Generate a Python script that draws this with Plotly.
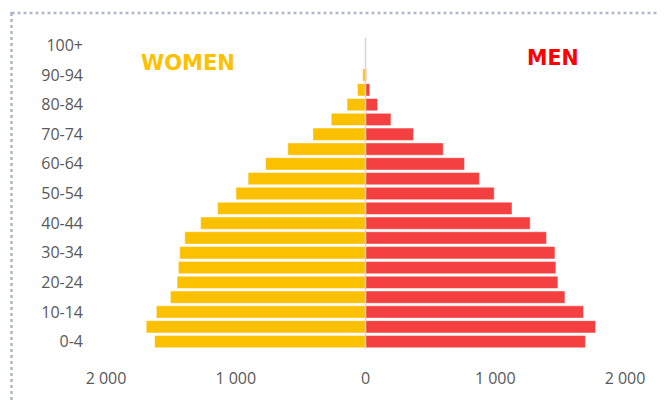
import plotly.graph_objects as go

age_groups = ["0-4", "5-9", "10-14", "15-19", "20-24", "25-29", "30-34", "35-39",
              "40-44", "45-49", "50-54", "55-59", "60-64", "65-69", "70-74", "75-79",
              "80-84", "85-89", "90-94", "95-99", "100+"]
women = [1625, 1690, 1612, 1504, 1452, 1442, 1432, 1393, 1271, 1140, 998, 905,
         770, 599, 405, 264, 142, 62, 21, 3, 0]
men = [1695, 1773, 1680, 1537, 1483, 1467, 1460, 1395, 1269, 1129, 992, 878,
       763, 599, 370, 196, 93, 33, 6, 1, 0]
y_tick_labels = ["0-4", "10-14", "20-24", "30-34", "40-44", "50-54", "60-64",
                 "70-74", "80-84", "90-94", "100+"]
x_tick_values = [-2000, -1000, 0, 1000, 2000]
x_tick_labels = ["2 000", "1 000", "0", "1 000", "2 000"]

OFF = 8  # page body margin
W, H = 666 - OFF, 401 - OFF
ML, MR, MT, MB = 106 - OFF, 41, 38 - OFF, 52

fig = go.Figure()
fig.add_trace(go.Bar(
    y=age_groups, x=[-v for v in women], orientation="h", name="WOMEN",
    marker=dict(color="#FBC000", line=dict(color="rgba(255,255,255,0.45)", width=1)),
))
fig.add_trace(go.Bar(
    y=age_groups, x=men, orientation="h", name="MEN",
    marker=dict(color="#F44040", line=dict(color="rgba(255,255,255,0.45)", width=1)),
))

pw = W - ML - MR
ph = H - MT - MB
def px_x(p):
    return (p - OFF - ML) / pw
def px_y(p):
    return 1 - (p - OFF - MT) / ph

fig.update_layout(
    width=W, height=H,
    margin=dict(l=ML, r=MR, t=MT, b=MB, pad=0),
    paper_bgcolor="white", plot_bgcolor="white",
    barmode="overlay", bargap=0.17,
    showlegend=False,
    font=dict(family="Open Sans, Liberation Sans, sans-serif", color="#595959", size=16),
    xaxis=dict(range=[-2000, 2000], tickvals=x_tick_values, ticktext=x_tick_labels,
               showgrid=False, zeroline=False, showline=False, ticks="",
               ticklabelstandoff=18, fixedrange=True),
    yaxis=dict(categoryorder="array", categoryarray=age_groups,
               tickvals=y_tick_labels, showgrid=False, zeroline=False,
               showline=False, ticks="", ticklabelstandoff=22,
               range=[-0.5, len(age_groups) - 0.5]),
    shapes=[
        dict(type="line", xref="x", yref="paper", x0=0, x1=0, y0=0, y1=1,
             line=dict(color="#D6D6D6", width=1.5), layer="above"),
        dict(type="rect", xref="paper", yref="paper",
             x0=px_x(11.5), x1=px_x(700), y0=px_y(13), y1=px_y(430),
             line=dict(color="#AFB8C7", width=2.5, dash="3px,3px"), layer="below"),
    ],
    annotations=[
        dict(text="<b>WOMEN</b>", xref="paper", yref="paper", x=px_x(188), y=px_y(63),
             xanchor="center", yanchor="middle",
             showarrow=False, font=dict(family="DejaVu Sans", size=21, color="#FFC000")),
        dict(text="<b>MEN</b>", xref="paper", yref="paper", x=px_x(553), y=px_y(58),
             xanchor="center", yanchor="middle",
             showarrow=False, font=dict(family="DejaVu Sans", size=20.5, color="#FF0000")),
    ],
)

fig.write_html("out.html")
